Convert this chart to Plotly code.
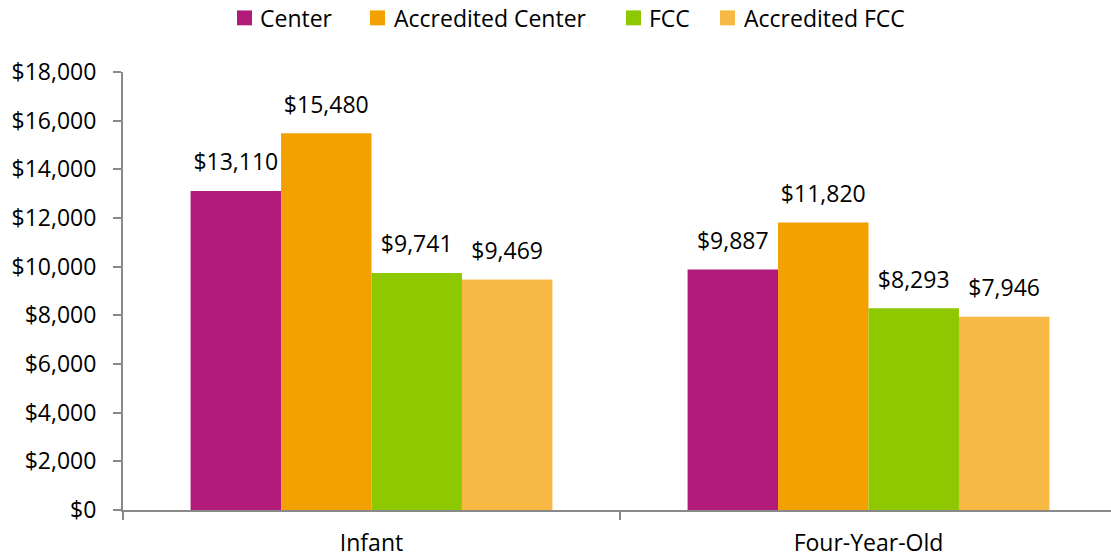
import plotly.graph_objects as go

categories = ["Infant", "Four-Year-Old"]
series_names = ["Center", "Accredited Center", "FCC", "Accredited FCC"]
center = [13110, 9887]
accredited_center = [15480, 11820]
fcc = [9741, 8293]
accredited_fcc = [9469, 7946]
colors = ["#B31B7B", "#F2A100", "#8DC800", "#F7B944"]

all_series = [center, accredited_center, fcc, accredited_fcc]

fig = go.Figure()
for i, (name, vals, col) in enumerate(zip(series_names, all_series, colors)):
    fig.add_trace(go.Bar(
        x=categories, y=vals, name=name, marker_color=col,
        marker_line_width=0, offsetgroup=str(i), showlegend=False,
    ))
for i, (name, vals) in enumerate(zip(series_names, all_series)):
    fig.add_trace(go.Scatter(
        x=categories, y=vals, mode="markers+text", offsetgroup=str(i),
        marker=dict(size=22, opacity=0), showlegend=False, hoverinfo="skip",
        text=[f"${v:,}" for v in vals], textposition="top center",
        textfont=dict(size=23, color="#000000"), cliponaxis=False,
    ))

# legend drawn as swatches + text (pixel positions measured from reference)
FIG_W, FIG_H = 1117, 558
L, T, W, H = 123, 72, 994, 441
def px(x):
    return (x - L) / W
def py(y):
    return (T + H - y) / H
legend_pos = [(237, 258), (370, 392), (626, 647), (720, 742)]
for (mx, tx), name, col in zip(legend_pos, series_names, colors):
    fig.add_shape(type="rect", xref="paper", yref="paper",
                  x0=px(mx), x1=px(mx + 15), y0=py(25), y1=py(10),
                  fillcolor=col, line_width=0)
    fig.add_annotation(xref="paper", yref="paper", x=px(tx), y=py(17.5),
                       xanchor="left", yanchor="middle", showarrow=False,
                       text=name, font=dict(size=23, color="#000000"))

axis_color = "#898989"
fig.update_layout(
    width=FIG_W, height=FIG_H,
    barmode="group", bargap=0.272, bargroupgap=0,
    scattermode="group", scattergap=0.272,
    plot_bgcolor="white", paper_bgcolor="white",
    font=dict(family="Open Sans", size=23, color="#000000"),
    margin=dict(l=L, r=FIG_W - L - W, t=T, b=FIG_H - T - H),
    showlegend=False,
    xaxis=dict(range=[-0.5, 1.5], showline=True, linecolor=axis_color, linewidth=2,
               ticks="outside", tickson="boundaries", ticklen=8, tickcolor=axis_color,
               tickwidth=2, showgrid=False, tickfont=dict(size=23), ticklabelstandoff=11),
    yaxis=dict(range=[0, 18000], dtick=2000, tickprefix="$", tickformat=",",
               showline=True, linecolor=axis_color, linewidth=2, ticks="outside",
               ticklen=8, tickcolor=axis_color, tickwidth=2, showgrid=False,
               zeroline=False, tickfont=dict(size=23), ticklabelstandoff=12),
)
fig.write_html("out.html", config={"displayModeBar": False},
               post_script="document.body.style.margin='0';document.body.style.overflow='hidden';")
